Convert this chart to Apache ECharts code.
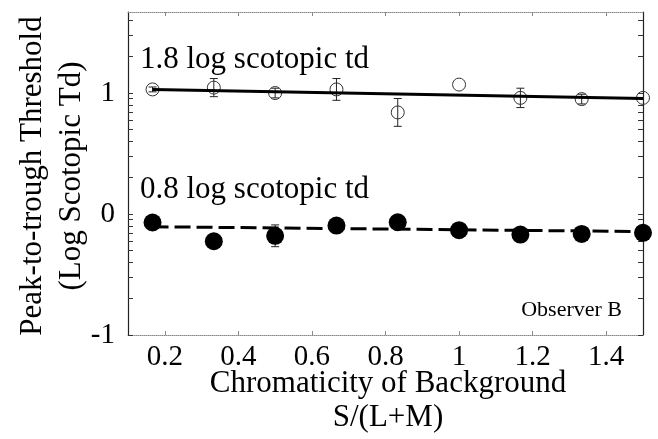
<!DOCTYPE html>
<html>
<head>
<meta charset="utf-8">
<script src="https://cdn.jsdelivr.net/npm/echarts@6/dist/echarts.min.js"></script>
<style>
html,body{margin:0;padding:0;background:#fff;}
#chart{width:658px;height:439px;}
</style>
</head>
<body>
<div id="chart"></div>
<script>
// ---- data ----
var chromaticity = [0.1667, 0.3333, 0.5, 0.6667, 0.8333, 1.0, 1.1667, 1.3333, 1.5];
var threshold18 = [1.03, 1.045, 1.0, 1.03, 0.84, 1.07, 0.96, 0.95, 0.96];
var error18     = [0.02, 0.075, 0.04, 0.09, 0.115, 0.0, 0.08, 0.04, 0.0];
var threshold08 = [-0.07, -0.225, -0.18, -0.095, -0.068, -0.134, -0.17, -0.165, -0.155];
var error08     = [0.0, 0.0, 0.09, 0.0, 0.03, 0.0, 0.0, 0.0, 0.0];
var fit18 = [[0.1667, 1.03], [1.5, 0.955]];
var fit08 = [[0.1667, -0.105], [1.5, -0.145]];
var xTickLabels = [0.2, 0.4, 0.6, 0.8, 1.0, 1.2, 1.4];
var yTickLabels = [-1, 0, 1];
var yMinorTicks = [-1, -0.699, -0.523, -0.398, -0.301, -0.222, -0.155, -0.097, -0.046,
                   0, 0.301, 0.477, 0.602, 0.699, 0.778, 0.845, 0.903, 0.954,
                   1, 1.301, 1.477, 1.602];
var labelHigh = '1.8 log scotopic td';
var labelLow = '0.8 log scotopic td';
var observer = 'Observer B';
var xTitle1 = 'Chromaticity of Background';
var xTitle2 = 'S/(L+M)';
var yTitle1 = 'Peak-to-trough Threshold';
var yTitle2 = '(Log Scotopic Td)';

var FONT = '"Liberation Serif", "Times New Roman", serif';

function zip(xs, ys) { return xs.map(function (x, i) { return [x, ys[i]]; }); }
function errData(xs, ys, es) {
  var out = [];
  xs.forEach(function (x, i) { if (es[i] > 0) out.push([x, ys[i] - es[i], ys[i] + es[i]]); });
  return out;
}
function errRender(params, api) {
  var x = api.value(0);
  var lo = api.coord([x, api.value(1)]);
  var hi = api.coord([x, api.value(2)]);
  var w = 4;
  var st = { stroke: '#222', lineWidth: 1 };
  return {
    type: 'group',
    children: [
      { type: 'line', shape: { x1: lo[0], y1: lo[1], x2: hi[0], y2: hi[1] }, style: st },
      { type: 'line', shape: { x1: lo[0] - w, y1: lo[1], x2: lo[0] + w, y2: lo[1] }, style: st },
      { type: 'line', shape: { x1: hi[0] - w, y1: hi[1], x2: hi[0] + w, y2: hi[1] }, style: st }
    ]
  };
}

var chart = echarts.init(document.getElementById('chart'));
var xBase = {
  type: 'value', min: 0.1, max: 1.5,
  splitLine: { show: false },
  axisLine: { show: true, onZero: false, lineStyle: { color: '#888', width: 1, type: 'dotted' } },
  axisTick: { show: true, inside: true, length: 4, customValues: xTickLabels, lineStyle: { color: '#888' } }
};
var yBase = {
  type: 'value', min: -1, max: 1.67, interval: 1,
  splitLine: { show: false },
  axisLine: { show: true, onZero: false, lineStyle: { color: '#222', width: 1.2 } },
  axisTick: { show: true, inside: true, length: 5, customValues: yMinorTicks, lineStyle: { color: '#333' } }
};

chart.setOption({
  animation: false,
  backgroundColor: '#fff',
  grid: { left: 128, right: 15, top: 12, bottom: 104 },
  xAxis: [
    Object.assign({}, xBase, {
      position: 'bottom',
      axisLabel: { customValues: xTickLabels, margin: 8, fontFamily: FONT, fontSize: 29, color: '#000',
        formatter: function (v) { return String(+v.toFixed(1)); } }
    }),
    Object.assign({}, xBase, { position: 'top', axisLabel: { show: false } })
  ],
  yAxis: [
    Object.assign({}, yBase, {
      position: 'left',
      axisLabel: { customValues: yTickLabels, margin: 13, fontFamily: FONT, fontSize: 29, color: '#000' }
    }),
    Object.assign({}, yBase, { position: 'right', axisLabel: { show: false } })
  ],
  series: [
    {
      type: 'custom', renderItem: errRender, z: 3,
      data: errData(chromaticity, threshold18, error18),
      encode: { x: 0, y: [1, 2] }
    },
    {
      type: 'custom', renderItem: errRender, z: 3,
      data: errData(chromaticity, threshold08, error08),
      encode: { x: 0, y: [1, 2] }
    },
    {
      type: 'scatter', z: 4, symbol: 'circle', symbolSize: 13,
      itemStyle: { color: 'rgba(255,255,255,0)', borderColor: '#333', borderWidth: 1, opacity: 1 },
      data: zip(chromaticity, threshold18)
    },
    {
      type: 'scatter', z: 4, symbol: 'circle', symbolSize: 18,
      itemStyle: { color: '#000', opacity: 1 },
      data: zip(chromaticity, threshold08)
    },
    {
      type: 'line', z: 5, showSymbol: false, symbol: 'none',
      lineStyle: { color: '#000', width: 3 },
      data: fit18
    },
    {
      type: 'line', z: 5, showSymbol: false, symbol: 'none',
      lineStyle: { color: '#000', width: 3, type: [16, 6] },
      data: fit08
    }
  ],
  graphic: [
    { type: 'text', left: 140, top: 44, style: { text: labelHigh, font: '31px ' + FONT, fill: '#000' } },
    { type: 'text', left: 140, top: 174, style: { text: labelLow, font: '31px ' + FONT, fill: '#000' } },
    { type: 'text', x: 622, y: 310, style: { text: observer, font: '22px ' + FONT, fill: '#000', align: 'right', verticalAlign: 'middle' } },
    { type: 'text', x: 388, y: 384, style: { text: xTitle1, font: '31px ' + FONT, fill: '#000', align: 'center', verticalAlign: 'middle' } },
    { type: 'text', x: 388, y: 418, style: { text: xTitle2, font: '31px ' + FONT, fill: '#000', align: 'center', verticalAlign: 'middle' } },
    { type: 'text', x: 33, y: 176, rotation: Math.PI / 2, style: { text: yTitle1, font: '31px ' + FONT, fill: '#000', align: 'center', verticalAlign: 'middle' } },
    { type: 'text', x: 72, y: 176, rotation: Math.PI / 2, style: { text: yTitle2, font: '31px ' + FONT, fill: '#000', align: 'center', verticalAlign: 'middle' } }
  ]
});
</script>
</body>
</html>
